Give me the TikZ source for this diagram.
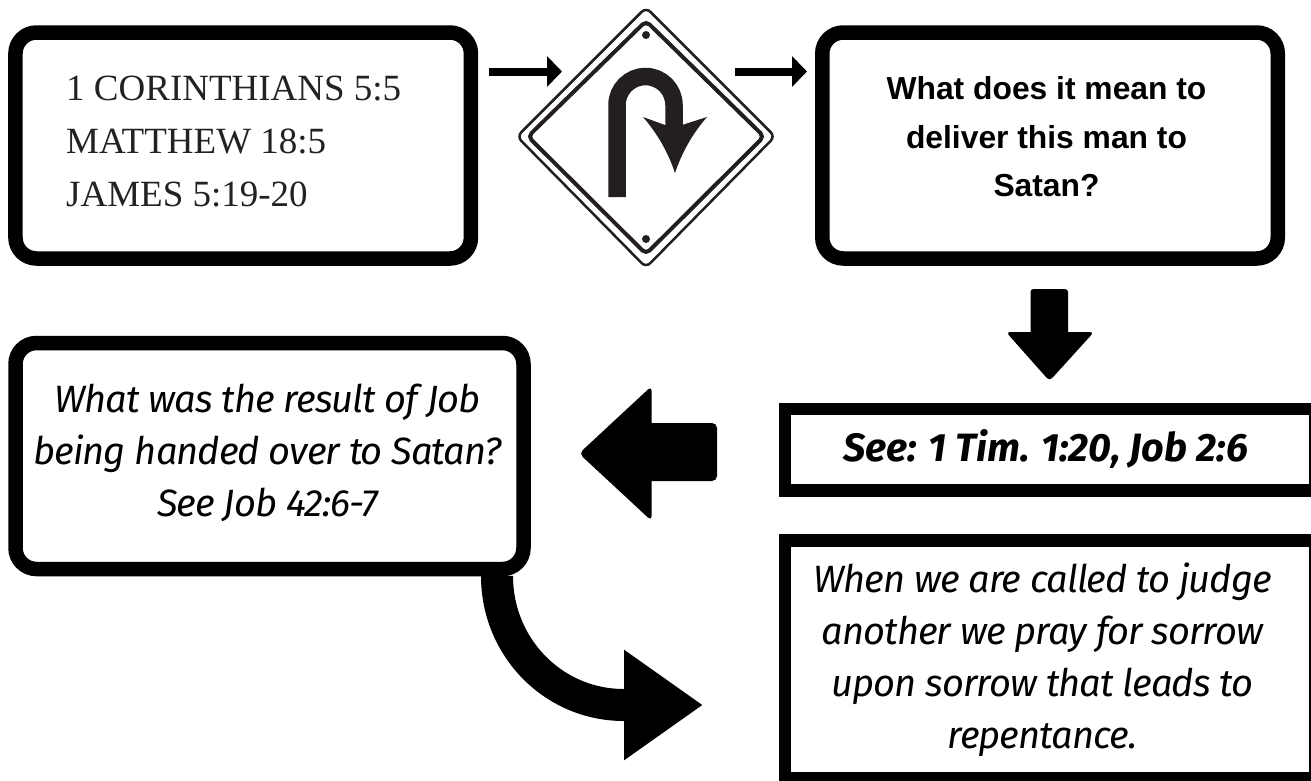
\documentclass[tikz,border=0pt]{standalone}
\usepackage{fontspec}
\usetikzlibrary{arrows.meta}
\setmainfont{Liberation Serif}
\newfontfamily\boldsans{Liberation Sans}[BoldFont={Liberation Sans Bold}]
\newfontfamily\humanist{Fira Sans}
\newfontfamily\humanisttight{Fira Sans}[LetterSpace=-2.5]
\definecolor{ink}{HTML}{231F20}
\definecolor{serifink}{HTML}{222222}
\tikzset{
  x=1pt,y=-1pt,
  roundbox/.style={draw=black,fill=white,line width=14.5pt,rounded corners=21pt,inner sep=0pt,outer sep=0pt},
  squarebox/.style={draw=black,fill=white,line width=12.5pt,inner sep=0pt,outer sep=0pt},
  serifline/.style={font=\fontsize{37}{53}\selectfont,text=serifink,align=left,inner sep=0pt},
  boldline/.style={font=\boldsans\bfseries\fontsize{31.8}{48.5}\selectfont,align=center,inner sep=0pt},
  italline/.style={font=\humanisttight\itshape\fontsize{38}{52}\selectfont,align=center,inner sep=0pt},
  smallarrow/.style={draw=black,line width=8pt,-{Triangle[length=15pt,width=30pt]}},
  blockshape/.style={fill=black,rounded corners=#1},
  curvearrow/.style={draw=black,line width=32pt,-{Triangle[length=79pt,width=105pt]}},
}
\begin{document}
\begin{tikzpicture}
\clip (0,0) rectangle (1311,780);
\useasboundingbox (0,0) rectangle (1311,780);
% boxes
\node[roundbox,minimum width=455.5pt,minimum height=226pt] (box1) at (243.2,145.5) {};
\node[roundbox,minimum width=455.5pt,minimum height=226pt] (box2) at (1050,145.5) {};
\node[roundbox,minimum width=508pt,minimum height=226pt] (box3) at (269.5,456) {};
\node[squarebox,minimum width=529.75pt,minimum height=81.5pt] (box4) at (1049.9,449.7) {};
\node[squarebox,minimum width=529.75pt,minimum height=238pt] (box5) at (1049.9,659.3) {};
% texts
\node[serifline,anchor=north west] (t1) at (66,76) {1 CORINTHIANS 5:5\\MATTHEW 18:5\\JAMES 5:19-20};
\node[boldline] (t2) at (1046.5,137) {What does it mean to\\deliver this man to\\Satan?};
\node[italline] (t3) at (267.5,453) {What was the result of Job\\being handed over to Satan?\\See Job 42:6-7};
\node[font=\humanist\bfseries\itshape\fontsize{39.5}{44}\selectfont,inner sep=0pt] (t4) at (1045.5,449) {See: 1 Tim. 1:20, Job 2:6};
\node[italline] (t5) at (1042.5,660) {When we are called to judge\\another we pray for sorrow\\upon sorrow that leads to\\repentance.};
% sign
\coordinate (signw) at (517,136.5);
\coordinate (signe) at (775,136.5);
\coordinate (signn) at (646,7.5);
\coordinate (signs) at (646,267.5);
\draw[ink,line width=2.5pt,rounded corners=6pt,fill=white] (signn) -- (signe) -- (signs) -- (signw) -- cycle;
\draw[ink,line width=4pt,rounded corners=5pt] (646,21) -- (764,136.5) -- (646,254) -- (528,136.5) -- cycle;
\fill[ink] (646,35) circle[radius=4pt] (646,239) circle[radius=4pt];
\draw[ink,line width=17.5pt] (617,197) -- (617,105) .. controls (617,89.3) and (629.8,76.5) .. (645.5,76.5) .. controls (661.2,76.5) and (674,89.3) .. (674,105) -- (674,128);
\fill[ink] (643,117) -- (665,125) -- (682,125) -- (707,117) .. controls (693,133) and (682,152) .. (675,173) .. controls (668,152) and (657,133) .. (643,117) -- cycle;
% connectors
\coordinate (a1s) at (489,71.5);
\coordinate (a1e) at (562,71.5);
\coordinate (a2s) at (735,71.5);
\coordinate (a2e) at (807,71.5);
\draw[smallarrow] (a1s) -- (a1e);
\draw[smallarrow] (a2s) -- (a2e);
\coordinate (a3s) at (1049.25,289);
\fill[blockshape=3pt] (a3s) ++(-18.75,0) -- ++(37.5,0) -- ++(0,48) -- ++(-37.5,0) -- cycle;
\fill[blockshape=4pt] (a3s) ++(-43.25,43) -- ++(88,0) -- ++(-44.5,49) -- cycle;
\coordinate (a4s) at (717,452);
\fill[blockshape=5pt] (a4s) ++(0,-29) -- ++(0,58) -- ++(-70,0) -- ++(0,-58) -- cycle;
\fill[blockshape=5pt] (a4s) ++(-65.3,-66) -- ++(0,135) -- ++(-72.7,-67.5) -- cycle;
\coordinate (a5s) at (497,576);
\coordinate (a5m) at (624,705);
\coordinate (a5e) at (703,705);
\draw[curvearrow] (a5s) .. controls (497,647) and (553,705) .. (a5m) -- (a5e);
\end{tikzpicture}
\end{document}
